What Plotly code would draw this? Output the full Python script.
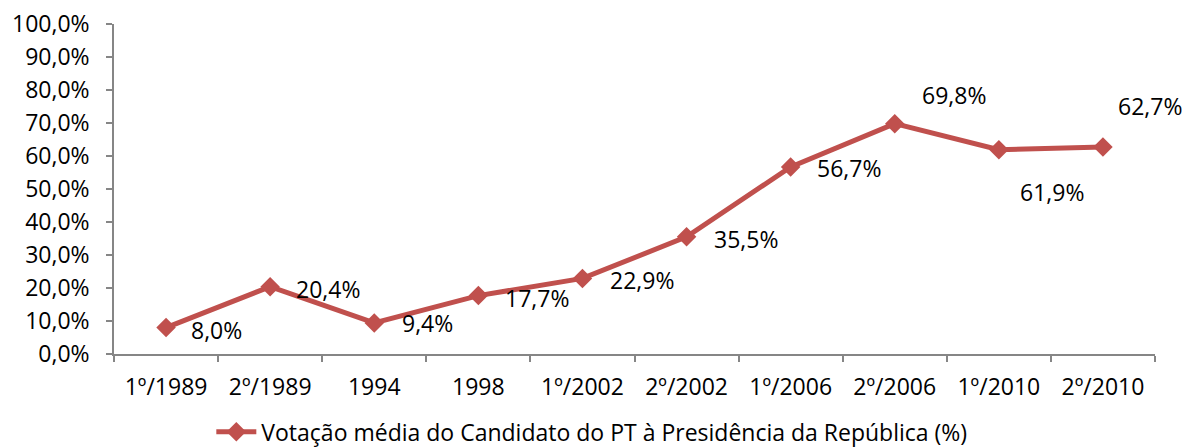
import plotly.graph_objects as go

# Election rounds and the PT candidate's average vote share (%)
rounds = ["1º/1989", "2º/1989", "1994", "1998", "1º/2002", "2º/2002",
          "1º/2006", "2º/2006", "1º/2010", "2º/2010"]
vote_share = [8.0, 20.4, 9.4, 17.7, 22.9, 35.5, 56.7, 69.8, 61.9, 62.7]
y_ticks = [0, 10, 20, 30, 40, 50, 60, 70, 80, 90, 100]

series_name = "Votação média do Candidato do PT à Presidência da República (%)"
RED = "#C0504D"
AXIS = "#868686"
FONT = "Open Sans"
FS = 23

# label placement per point (pixel offset from the marker)
label_shift = [(50, -2), (58, -2), (53, 0), (59, -2), (60, -2),
               (59, -2), (58, -1), (59, 29), (53, -42), (47, 41)]

fig = go.Figure()
fig.add_trace(go.Scatter(
    x=rounds,
    y=[v / 100 for v in vote_share],
    mode="lines+markers",
    name=series_name,
    line=dict(color=RED, width=5),
    marker=dict(symbol="diamond", size=15, color=RED),
))

# annotations are placed by category index so numeric-looking names
# such as "1994" are not read as axis coordinates
for i, (v, (dx, dy)) in enumerate(zip(vote_share, label_shift)):
    fig.add_annotation(
        x=i, y=v / 100, text=f"{v:.1f}%".replace(".", ","),
        showarrow=False, xshift=dx, yshift=dy,
        font=dict(family=FONT, size=FS, color="#000000"),
    )

fig.update_layout(
    width=1185, height=447,
    margin=dict(l=114, r=30, t=24, b=93, autoexpand=False),
    paper_bgcolor="white", plot_bgcolor="white",
    separators=",.",
    font=dict(family=FONT, size=FS, color="#000000"),
    showlegend=True,
    legend=dict(orientation="h", x=0.459, xanchor="center", y=-0.236,
                yanchor="middle", font=dict(family=FONT, size=FS),
                itemwidth=40),
)
fig.update_xaxes(
    type="category", range=[-0.5, len(rounds) - 0.5], automargin=False,
    showline=True, linecolor=AXIS, linewidth=1.5,
    ticks="outside", tickson="boundaries", ticklen=6, tickcolor=AXIS,
    tickwidth=1.5, showgrid=False, zeroline=False, tickangle=0,
    ticklabelstandoff=12,
)
fig.update_yaxes(
    range=[0, 1], tickvals=[t / 100 for t in y_ticks], tickformat=".1%",
    automargin=False,
    showline=True, linecolor=AXIS, linewidth=1.5, ticks="outside",
    ticklen=6, tickcolor=AXIS, tickwidth=1.5, showgrid=False,
    zeroline=False, ticklabelstandoff=12,
)

fig.write_html("out.html")
